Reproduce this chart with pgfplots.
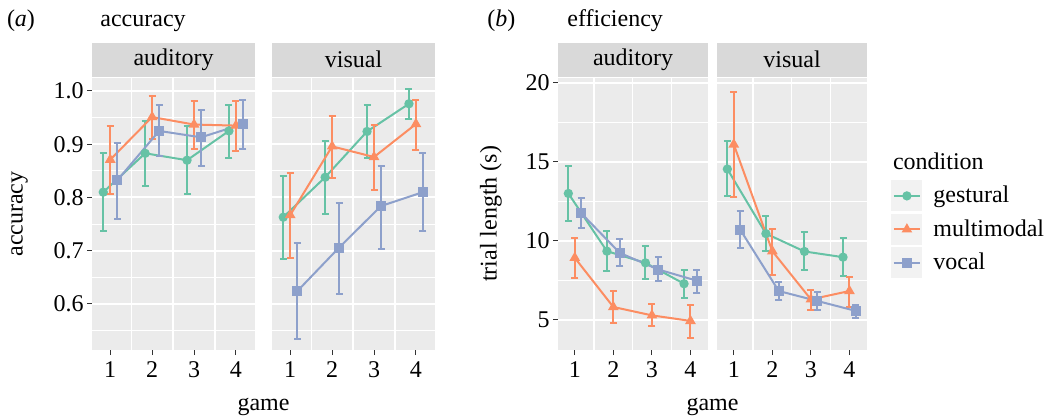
\documentclass[border=0pt]{standalone}
\usepackage{fontspec}
\setmainfont{Liberation Serif}
\usepackage{pgfplots}
\usepackage{pgfplotstable}
\pgfplotsset{compat=1.18}

\definecolor{cG}{HTML}{66C2A5}
\definecolor{cM}{HTML}{FC8D62}
\definecolor{cV}{HTML}{8DA0CB}
\definecolor{panelbg}{HTML}{EBEBEB}
\definecolor{stripbg}{HTML}{D9D9D9}
\definecolor{keybg}{HTML}{F2F2F2}
\definecolor{tickc}{HTML}{333333}

% accuracy, auditory
\pgfplotstableread{
game y lo hi
1 0.810 0.738 0.883
2 0.883 0.822 0.944
3 0.870 0.806 0.934
4 0.925 0.875 0.973
}\accAudG
\pgfplotstableread{
game y lo hi
1 0.871 0.806 0.934
2 0.951 0.909 0.991
3 0.937 0.891 0.982
4 0.935 0.888 0.982
}\accAudM
\pgfplotstableread{
game y lo hi
1 0.832 0.760 0.902
2 0.925 0.877 0.974
3 0.913 0.860 0.965
4 0.938 0.892 0.983
}\accAudV
% accuracy, visual
\pgfplotstableread{
game y lo hi
1 0.763 0.684 0.841
2 0.838 0.769 0.906
3 0.924 0.874 0.974
4 0.976 0.947 1.004
}\accVisG
\pgfplotstableread{
game y lo hi
1 0.767 0.687 0.846
2 0.896 0.837 0.953
3 0.876 0.815 0.937
4 0.938 0.890 0.983
}\accVisM
\pgfplotstableread{
game y lo hi
1 0.624 0.535 0.715
2 0.706 0.619 0.790
3 0.784 0.704 0.859
4 0.810 0.737 0.883
}\accVisV
% efficiency, auditory
\pgfplotstableread{
game y lo hi
1 13.00 11.27 14.71
2 9.35 8.09 10.61
3 8.61 7.56 9.66
4 7.29 6.39 8.17
}\effAudG
\pgfplotstableread{
game y lo hi
1 8.93 7.63 10.19
2 5.82 4.83 6.83
3 5.29 4.60 6.01
4 4.94 3.87 5.92
}\effAudM
\pgfplotstableread{
game y lo hi
1 11.75 10.84 12.73
2 9.24 8.40 10.10
3 8.19 7.44 8.95
4 7.48 6.72 8.13
}\effAudV
% efficiency, visual
\pgfplotstableread{
game y lo hi
1 14.54 12.81 16.29
2 10.46 9.33 11.58
3 9.33 8.13 10.59
4 8.97 7.75 10.19
}\effVisG
\pgfplotstableread{
game y lo hi
1 16.10 12.79 19.44
2 9.35 7.84 10.76
3 6.30 5.65 6.87
4 6.83 5.82 7.73
}\effVisM
\pgfplotstableread{
game y lo hi
1 10.71 9.54 11.91
2 6.83 6.28 7.37
3 6.20 5.65 6.76
4 5.57 5.15 5.95
}\effVisV

\pgfplotsset{
  facet/.style={
    scale only axis, height=136pt,
    axis background/.style={fill=panelbg},
    axis x line*=bottom, axis y line*=left,
    axis line style={draw=none},
    tick align=outside, major tick length=2.5pt, minor tick length=0pt,
    tick style={tickc, line width=0.5pt},
    xmin=0.565, xmax=4.455,
    xtick={1,2,3,4}, minor xtick={1.5,2.5,3.5},
    xminorgrids, ymajorgrids, yminorgrids,
    major grid style={white, line width=1pt},
    minor grid style={white, line width=0.6pt},
    font=\fontsize{12}{14}\selectfont,
    /pgf/number format/assume math mode=true,
    yticklabel style={inner xsep=1.5pt},
    every axis title/.style={at={(0.5,1)}, anchor=south, yshift=0.5pt,
      fill=stripbg, minimum height=17pt, inner sep=0pt, text=black},
  },
  accax/.style={facet, ymin=0.5136, ymax=1.0244,
    ytick={0.6,0.7,0.8,0.9,1.0}, minor ytick={0.55,0.65,0.75,0.85,0.95},
    yticklabel style={/pgf/number format/.cd, fixed, fixed zerofill, precision=1}},
  effax/.style={facet, ymin=3.1, ymax=20.3,
    ytick={5,10,15,20}, minor ytick={7.5,12.5,17.5}},
  ser/.style={color=#1, line width=1pt, mark options={solid},
    error bars/y dir=both, error bars/y explicit,
    error bars/error bar style={line width=1pt},
    error bars/error mark options={rotate=90, mark size=1.75pt, line width=1pt}},
  gest/.style={ser=cG, mark=*, mark size=1.8pt},
  mult/.style={ser=cM, mark=triangle*, mark size=2.1pt},
  voc/.style={ser=cV, mark=square*, mark size=2pt},
  legend image code/.code={
    \fill[keybg, draw=none] (0pt,-7.75pt) rectangle (15.5pt,7.75pt);
    \draw[mark repeat=2, mark phase=2] plot coordinates {(1.25pt,0pt) (7.75pt,0pt) (14.25pt,0pt)};
  },
}

\newcommand{\threeseries}[3]{%
  \addplot[gest] table[x expr=\thisrow{game}-0.1667, y=y,
    y error plus expr=\thisrow{hi}-\thisrow{y}, y error minus expr=\thisrow{y}-\thisrow{lo}] {#1};
  \addplot[mult] table[x=game, y=y,
    y error plus expr=\thisrow{hi}-\thisrow{y}, y error minus expr=\thisrow{y}-\thisrow{lo}] {#2};
  \addplot[voc] table[x expr=\thisrow{game}+0.1667, y=y,
    y error plus expr=\thisrow{hi}-\thisrow{y}, y error minus expr=\thisrow{y}-\thisrow{lo}] {#3};
}

\begin{document}
\begin{tikzpicture}[font=\fontsize{12}{14}\selectfont]
\useasboundingbox (0,0) rectangle (524.5pt,209pt);

% (a) accuracy
\begin{axis}[accax, at={(46pt,34pt)}, anchor=south west, width=81.5pt,
  title=auditory, title style={minimum width=81.5pt}]
\threeseries{\accAudG}{\accAudM}{\accAudV}
\end{axis}
\begin{axis}[accax, at={(136pt,34pt)}, anchor=south west, width=81.5pt,
  yticklabels={}, ytick style={draw=none},
  title=visual, title style={minimum width=81.5pt}]
\threeseries{\accVisG}{\accVisM}{\accVisV}
\end{axis}

% (b) efficiency
\begin{axis}[effax, at={(279pt,34pt)}, anchor=south west, width=75pt,
  title=auditory, title style={minimum width=75pt}]
\threeseries{\effAudG}{\effAudM}{\effAudV}
\end{axis}
\begin{axis}[effax, at={(358.5pt,34pt)}, anchor=south west, width=75pt,
  yticklabels={}, ytick style={draw=none},
  title=visual, title style={minimum width=75pt},
  legend style={at={(1.16,0.625)}, anchor=north west, draw=none, fill=none,
    inner sep=0pt, row sep=1.25pt, column sep=5.5pt, nodes={inner sep=0pt},
    font=\fontsize{12}{14}\selectfont},
  legend cell align=left]
\threeseries{\effVisG}{\effVisM}{\effVisV}
\legend{gestural, multimodal, vocal}
\end{axis}

\node[anchor=base west, inner sep=0pt] at (3.3pt,195.7pt) {(\textit{a})};
\node[anchor=base west, inner sep=0pt] at (50pt,195.7pt) {accuracy};
\node[anchor=base west, inner sep=0pt] at (243.5pt,195.7pt) {(\textit{b})};
\node[anchor=base west, inner sep=0pt] at (283.5pt,195.7pt) {efficiency};
\node[rotate=90, inner sep=0pt] at (9.75pt,102pt) {accuracy};
\node[rotate=90, inner sep=0pt] at (245.5pt,102pt) {trial length (s)};
\node[anchor=base, inner sep=0pt] at (131.75pt,3.6pt) {game};
\node[anchor=base, inner sep=0pt] at (356.25pt,3.6pt) {game};
\node[anchor=west, inner sep=0pt] at (446.3pt,128.2pt) {condition};
\end{tikzpicture}
\end{document}
